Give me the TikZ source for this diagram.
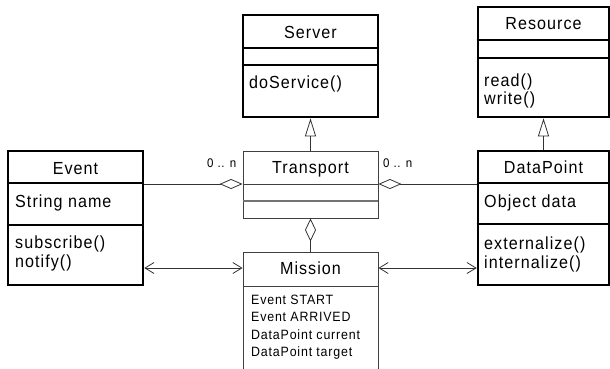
\documentclass[tikz,border=0pt]{standalone}
\usepackage{fontspec}
\setmainfont{Liberation Sans}
\newfontfamily\umlfont{Liberation Sans}[LetterSpace=6.0, FakeStretch=0.92]
\usetikzlibrary{arrows.meta}

\tikzset{
  classbox/.style={draw=black, line width=2.6pt, inner sep=0pt},
  lightbox/.style={draw=black!75, line width=0.9pt, inner sep=0pt},
  titletext/.style={inner sep=0pt, anchor=base, font=\umlfont\fontsize{17.5}{19}\selectfont},
  bodytext/.style={inner sep=0pt, anchor=base west, font=\umlfont\fontsize{17.5}{19}\selectfont},
  smalltext/.style={inner sep=0pt, anchor=base west, font=\umlfont\fontsize{13.5}{15}\selectfont},
  multtext/.style={inner sep=0pt, anchor=base west, font=\umlfont\fontsize{12.5}{14}\selectfont},
  link/.style={draw=black!80, line width=0.8pt},
  inherit/.style={link, -{Triangle[open, length=18pt, width=11pt, line width=0.8pt]}},
  aggr/.style={link, -{Diamond[open, length=23pt, width=10pt, line width=0.8pt]}},
  nav/.style={link, {Straight Barb[length=9pt, width=11pt, line width=0.8pt]}-{Straight Barb[length=9pt, width=11pt, line width=0.8pt]}}
}

\begin{document}
\begin{tikzpicture}[x=1pt, y=-1pt]
\useasboundingbox (0,0) rectangle (610,368);
\clip (0,0) rectangle (610,368);

% class outlines
\node[classbox, minimum width=135pt, minimum height=102pt] (server) at (310.5,66) {};
\node[classbox, minimum width=131pt, minimum height=110pt] (resource) at (543.5,62) {};
\node[classbox, minimum width=135pt, minimum height=134pt] (event) at (75.5,218) {};
\node[classbox, minimum width=131pt, minimum height=134pt] (datapoint) at (543.5,218) {};
\node[lightbox, minimum width=135pt, minimum height=67pt] (transport) at (310.5,184.5) {};
\node[lightbox, minimum width=135pt, minimum height=130pt] (mission) at (310.5,317) {};

% compartment separators
\draw[line width=2.6pt] (server.west |- 0,48) -- (server.east |- 0,48);
\draw[line width=2.6pt] (server.west |- 0,65) -- (server.east |- 0,65);
\draw[line width=2.6pt] (resource.west |- 0,40) -- (resource.east |- 0,40);
\draw[line width=2.6pt] (resource.west |- 0,58) -- (resource.east |- 0,58);
\draw[line width=2.6pt] (event.west |- 0,183) -- (event.east |- 0,183);
\draw[line width=2.6pt] (event.west |- 0,225) -- (event.east |- 0,225);
\draw[line width=2.6pt] (datapoint.west |- 0,183) -- (datapoint.east |- 0,183);
\draw[line width=2.6pt] (datapoint.west |- 0,224) -- (datapoint.east |- 0,224);
\draw[draw=black!75, line width=0.9pt] (transport.west |- 0,184) -- (transport.east |- 0,184);
\draw[draw=black!55, line width=1.2pt] (transport.west |- 0,201) -- (transport.east |- 0,201);
\draw[draw=black!75, line width=0.9pt] (mission.west |- 0,286) -- (mission.east |- 0,286);

% class names
\node[titletext] (serverT) at (310.5,38) {Server};
\node[titletext] (resourceT) at (543.5,29) {Resource};
\node[titletext] (eventT) at (75.5,174) {Event};
\node[titletext] (datapointT) at (543.5,173) {DataPoint};
\node[titletext] (transportT) at (310.5,173) {Transport};
\node[titletext] (missionT) at (310.5,274) {Mission};

% attributes and operations
\node[bodytext] (doService) at (249,88) {doService()};
\node[bodytext] (read) at (484,86) {read()};
\node[bodytext] (write) at (484,104) {write()};
\node[bodytext] (strname) at (15,207) {String name};
\node[bodytext] (subscribe) at (15,248) {subscribe()};
\node[bodytext] (notify) at (15,267) {notify()};
\node[bodytext] (objdata) at (484,207) {Object data};
\node[bodytext] (externalize) at (484,249) {externalize()};
\node[bodytext] (internalize) at (484,268) {internalize()};
\node[smalltext] (mstart) at (251,304) {Event START};
\node[smalltext] (marrived) at (251,321.5) {Event ARRIVED};
\node[smalltext] (mcurrent) at (251,339) {DataPoint current};
\node[smalltext] (mtarget) at (251,356) {DataPoint target};

% multiplicities
\node[multtext] (multL) at (207,167) {0 .. n};
\node[multtext] (multR) at (383,167) {0 .. n};

% generalisations
\draw[inherit] (transport.north) -- (server.south);
\draw[inherit] (datapoint.north) -- (resource.south);

% aggregations
\draw[aggr] (event.east |- 0,184) -- (transport.west |- 0,184);
\draw[aggr] (datapoint.west |- 0,184) -- (transport.east |- 0,184);
\draw[link, -{Diamond[open, length=23pt, width=11pt, line width=0.8pt]}] (mission.north) -- (transport.south);

% navigable associations
\draw[nav] (event.east |- 0,268) -- (mission.west |- 0,268);
\draw[nav] (mission.east |- 0,268) -- (datapoint.west |- 0,268);
\end{tikzpicture}
\end{document}
